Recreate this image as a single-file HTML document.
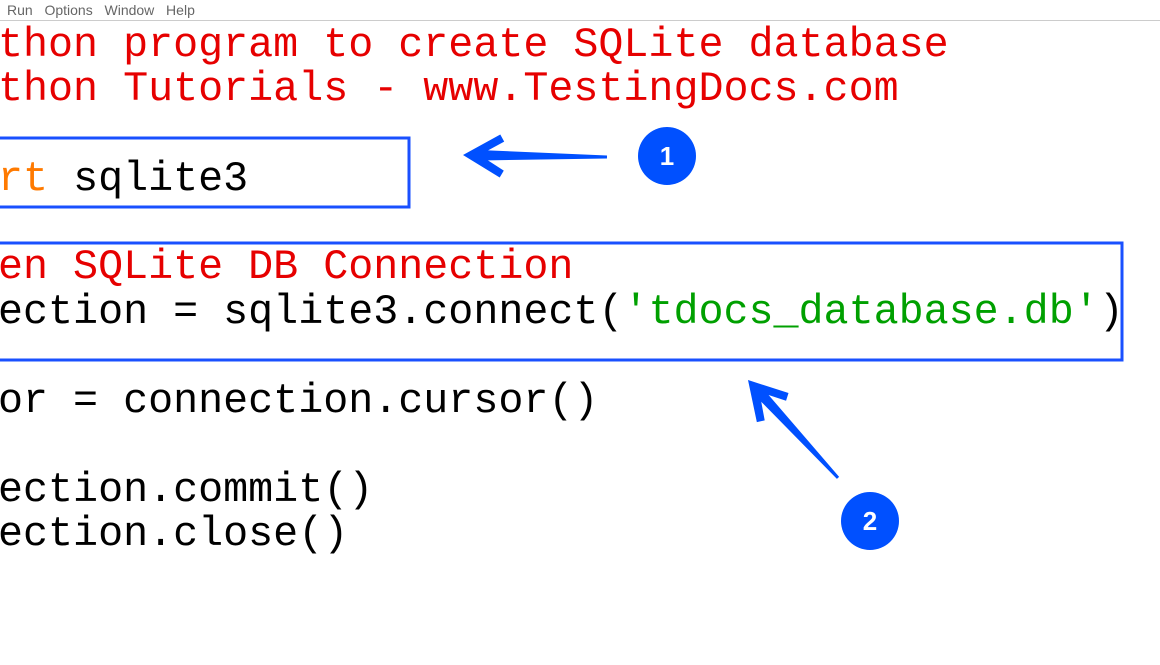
<!DOCTYPE html>
<html><head><meta charset="utf-8"><style>
body{margin:0;width:1160px;height:665px;background:#fff;overflow:hidden;position:relative;font-family:"Liberation Mono",monospace}
.l{position:absolute;left:-2px;font-size:41.7px;line-height:44px;height:44px;white-space:pre;color:#000}
.r{color:#e60000}.o{color:#ff7a00}.g{color:#00a000}
.menu{position:absolute;top:2px;left:7px;font-family:"Liberation Sans",sans-serif;font-size:14px;color:#666;word-spacing:2px}
</style></head><body>
<div class="menu">Run&nbsp; Options&nbsp; Window&nbsp; Help</div>
<div style="position:absolute;left:0;top:20px;width:1160px;height:1px;background:#ccc"></div>
<div class="l r" style="top:23px">thon program to create SQLite database</div>
<div class="l r" style="top:67px">thon Tutorials - www.TestingDocs.com</div>
<div class="l" style="top:157px"><span class="o">rt</span> sqlite3</div>
<div class="l r" style="top:245px">en SQLite DB Connection</div>
<div class="l" style="top:290px">ection = sqlite3.connect(<span class="g">'tdocs_database.db'</span>)</div>
<div class="l" style="top:379px">or = connection.cursor()</div>
<div class="l" style="top:468px">ection.commit()</div>
<div class="l" style="top:512px">ection.close()</div>
<svg width="1160" height="665" style="position:absolute;left:0;top:0">
<rect x="-10" y="138" width="419" height="69" fill="none" stroke="#1a50ff" stroke-width="3"/>
<rect x="-10" y="243" width="1132" height="117" fill="none" stroke="#1a50ff" stroke-width="3"/>
<g fill="#0050ff">
<polygon transform="translate(463,155) rotate(0.8)" points="0,0 37,-21 41,-14 25,-5 144,-1.5 144,1.5 25,5 41,15 37,22"/>
<polygon transform="translate(748,380) rotate(47.4)" points="0,0 37,-21 41,-14 25,-5 133,-1.5 133,1.5 25,5 41,15 37,22"/>
<circle cx="667" cy="156" r="29"/>
<circle cx="870" cy="521" r="29"/>
</g>
<g fill="#fff" font-family="Liberation Sans,sans-serif" font-weight="bold" font-size="26" text-anchor="middle">
<text x="667" y="165">1</text><text x="870" y="530">2</text>
</g>
</svg>
</body></html>
